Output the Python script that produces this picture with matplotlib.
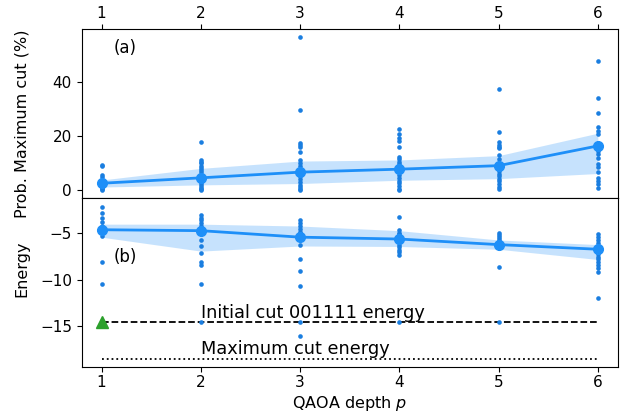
import numpy as np
import matplotlib
matplotlib.use("Agg")
import matplotlib.pyplot as plt

# QAOA depths
depths = [1, 2, 3, 4, 5, 6]

# probability of sampling the maximum cut (%) for each run
prob_runs = [
    [9.2, 8.9, 5.6, 4.8, 3.4, 2.8, 2.2, 1.8, 1.2, 0.8, 0.4, 0.1],
    [17.9, 11.2, 10.5, 9.8, 9.0, 8.2, 7.5, 6.5, 5.5, 4.8, 4.0, 3.0, 2.2, 1.5, 0.8, 0.2, 0.0],
    [56.5, 29.5, 17.3, 16.5, 15.8, 14.2, 11.2, 10.0, 8.8, 7.5, 6.0, 5.0, 4.0, 3.0, 2.0, 1.2, 0.5, 0.0],
    [22.7, 20.8, 19.4, 18.2, 16.0, 12.3, 11.5, 10.5, 9.5, 8.5, 7.5, 6.5, 5.5, 4.5, 3.5, 2.5, 1.5, 0.5, 0.0],
    [37.3, 21.3, 17.6, 16.8, 16.0, 15.4, 13.0, 11.5, 10.0, 8.5, 7.0, 6.0, 5.0, 4.0, 3.2, 2.2, 1.2, 0.2],
    [47.6, 34.1, 28.4, 23.4, 21.9, 20.7, 17.5, 14.5, 13.3, 12.0, 9.5, 8.5, 6.5, 4.6, 3.3, 2.1, 0.9],
]
prob_mean = [2.5, 4.5, 6.6, 7.7, 9.0, 16.3]
prob_lo = [1.1, 1.9, 2.4, 3.6, 4.2, 6.1]
prob_hi = [3.7, 8.0, 10.7, 11.1, 12.7, 21.0]

# final energy for each run
energy_runs = [
    [-2.1, -2.8, -3.3, -3.8, -4.2, -4.5, -4.9, -5.3, -8.1, -10.4],
    [-3.05, -3.3, -3.6, -3.9, -4.2, -4.5, -4.8, -5.0, -5.7, -6.4, -7.1, -8.1, -8.4, -10.4, -14.5],
    [-3.6, -3.9, -4.2, -4.5, -4.8, -5.0, -5.4, -6.2, -7.8, -9.0, -10.7, -14.5, -16.0],
    [-3.2, -4.65, -4.9, -5.1, -5.3, -5.5, -5.7, -5.9, -6.2, -6.5, -6.8, -7.0, -7.3, -14.5],
    [-5.0, -5.2, -5.4, -5.6, -5.8, -6.0, -6.2, -6.4, -6.6, -8.6, -14.5],
    [-5.1, -5.4, -5.7, -6.0, -6.3, -6.6, -6.9, -7.2, -7.5, -7.8, -8.1, -8.4, -8.7, -9.1, -11.9],
]
energy_mean = [-4.6, -4.7, -5.4, -5.6, -6.2, -6.7]
energy_lo = [-5.4, -6.9, -6.35, -6.4, -6.7, -7.8]
energy_hi = [-4.0, -4.0, -4.2, -4.7, -5.7, -6.2]

initial_energy = -14.5
max_cut_energy = -18.5

line_c = "#1e8ff8"
dot_c = "#1a7ee0"

fig, (ax1, ax2) = plt.subplots(2, 1, sharex=True, figsize=(6.26, 4.17), dpi=100)
fig.subplots_adjust(left=0.1305, right=0.9867, top=0.9305, bottom=0.1192, hspace=0)


def draw_panel(ax, runs, mean, lo, hi):
    for p, vals in zip(depths, runs):
        ax.scatter([p] * len(vals), vals, s=11, color=dot_c, linewidths=0, zorder=3)
    ax.fill_between(depths, lo, hi, color=line_c, alpha=0.25, linewidth=0, zorder=1)
    ax.plot(depths, mean, color=line_c, lw=2, marker="o", ms=7, zorder=4)


draw_panel(ax1, prob_runs, prob_mean, prob_lo, prob_hi)
ax1.set_ylim(-3, 59.5)
ax1.set_yticks([0, 20, 40])
ax1.set_ylabel("Prob. Maximum cut (%)", fontsize=11.5)
ax1.yaxis.set_label_coords(-0.098, 0.44)
ax1.xaxis.tick_top()
ax1.tick_params(axis="x", labeltop=True, labelbottom=False, bottom=False, pad=2)
ax1.text(1.12, 52.5, "(a)", fontsize=12, va="center")

draw_panel(ax2, energy_runs, energy_mean, energy_lo, energy_hi)
ax2.plot([1, 6], [initial_energy, initial_energy], "k--", lw=1.3, zorder=2)
ax2.plot([1, 6], [max_cut_energy, max_cut_energy], "k:", lw=1.3, zorder=2)
ax2.plot([1], [initial_energy], marker="^", color="#2ca02c", ms=8, zorder=5)
ax2.text(2.0, -14.05, "Initial cut 001111 energy", fontsize=12.8, va="baseline")
ax2.text(2.0, -17.95, "Maximum cut energy", fontsize=12.8, va="baseline")
ax2.text(1.12, -7.5, "(b)", fontsize=12, va="center")
ax2.set_ylim(-19.4, -1.2)
ax2.set_yticks([-5, -10, -15])
ax2.set_ylabel("Energy", fontsize=11.5)
ax2.yaxis.set_label_coords(-0.098, 0.58)
ax2.set_xlim(0.8, 6.2)
ax2.set_xticks(depths)
ax2.tick_params(axis="x", pad=2)
ax2.set_xlabel("QAOA depth $p$", fontsize=11.5, labelpad=3)

for ax in (ax1, ax2):
    ax.tick_params(labelsize=11)

fig.savefig("out.png")
